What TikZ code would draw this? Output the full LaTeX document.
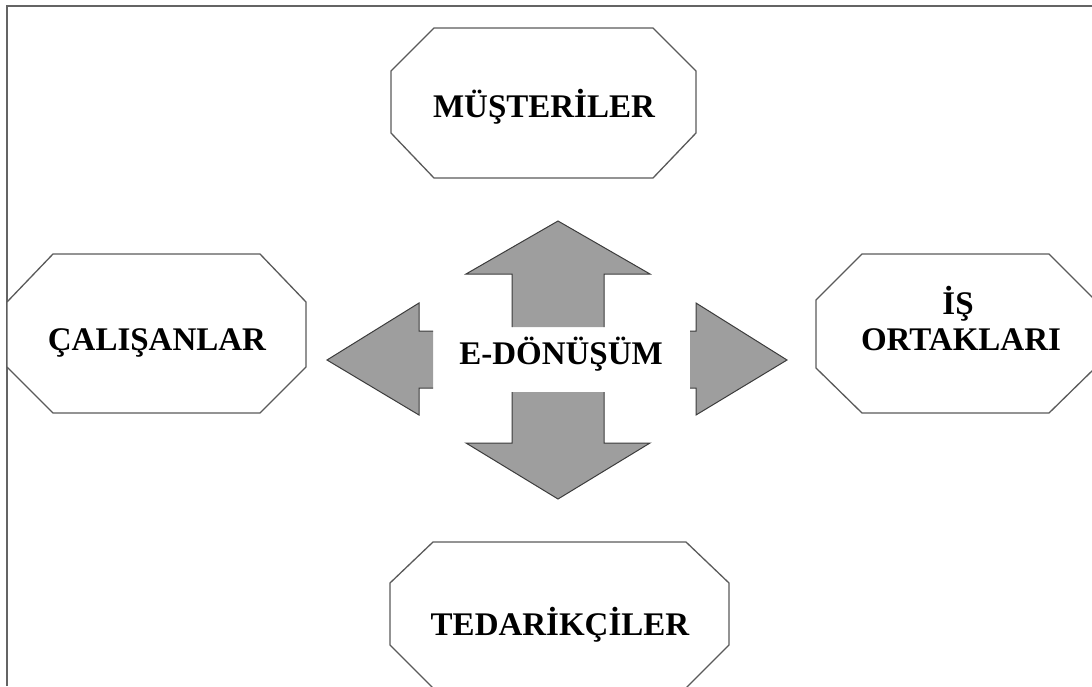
\documentclass[tikz,border=0pt]{standalone}
\usepackage{fontspec}
\setmainfont{Liberation Serif}
\definecolor{frame}{RGB}{100,100,100}
\definecolor{octline}{RGB}{90,90,90}
\definecolor{arrfill}{RGB}{158,158,158}
\definecolor{arrline}{RGB}{60,60,60}
\tikzset{
  octa/.style={draw=octline, line width=1.3pt, fill=white},
  arr/.style={fill=arrfill, draw=arrline, line width=1pt, line join=miter},
  lbl/.style={font=\fontsize{33}{36}\selectfont\bfseries, inner sep=0pt, anchor=base, text=black},
}
\begin{document}
\begin{tikzpicture}[x=1pt,y=-1pt]
\useasboundingbox (0,0) rectangle (1092,686);
% frame
\draw[frame, line width=2pt] (7,686) -- (7,6) -- (1092,6);
% octagons
\draw[octa] (434,28) -- (653,28) -- (696,71) -- (696,133) -- (653,178) -- (434,178) -- (391,133) -- (391,71) -- cycle;
\draw[octa] (53,254) -- (260,254) -- (306,302) -- (306,367) -- (260,413) -- (53,413) -- (7,367) -- (7,302) -- cycle;
\draw[octa] (862,254) -- (1049,254) -- (1095,300) -- (1095,368) -- (1049,413) -- (862,413) -- (816,368) -- (816,300) -- cycle;
\draw[octa] (433,542) -- (686,542) -- (729,583) -- (729,645) -- (686,688) -- (433,688) -- (390,645) -- (390,583) -- cycle;
% arrows
\path[arr] (512,327) -- (512,274) -- (466,274) -- (558,221) -- (650,274) -- (604,274) -- (604,327);
\path[arr] (512,392) -- (512,443) -- (466,443) -- (558,499) -- (650,443) -- (604,443) -- (604,392);
\path[arr] (433,331) -- (419,331) -- (419,303) -- (327,360) -- (419,415) -- (419,388) -- (433,388);
\path[arr] (690,331) -- (696,331) -- (696,303) -- (787,360) -- (696,415) -- (696,388) -- (690,388);
% labels
\node[lbl] (must) at (544,117) {MÜŞTERİLER};
\node[lbl] (cal) at (157,350) {ÇALIŞANLAR};
\node[lbl] (is1) at (958,314) {İŞ};
\node[lbl] (is2) at (961,350) {ORTAKLARI};
\node[lbl] (edon) at (561,364) {E-DÖNÜŞÜM};
\node[lbl] (ted) at (560,635) {TEDARİKÇİLER};
\end{tikzpicture}
\end{document}
